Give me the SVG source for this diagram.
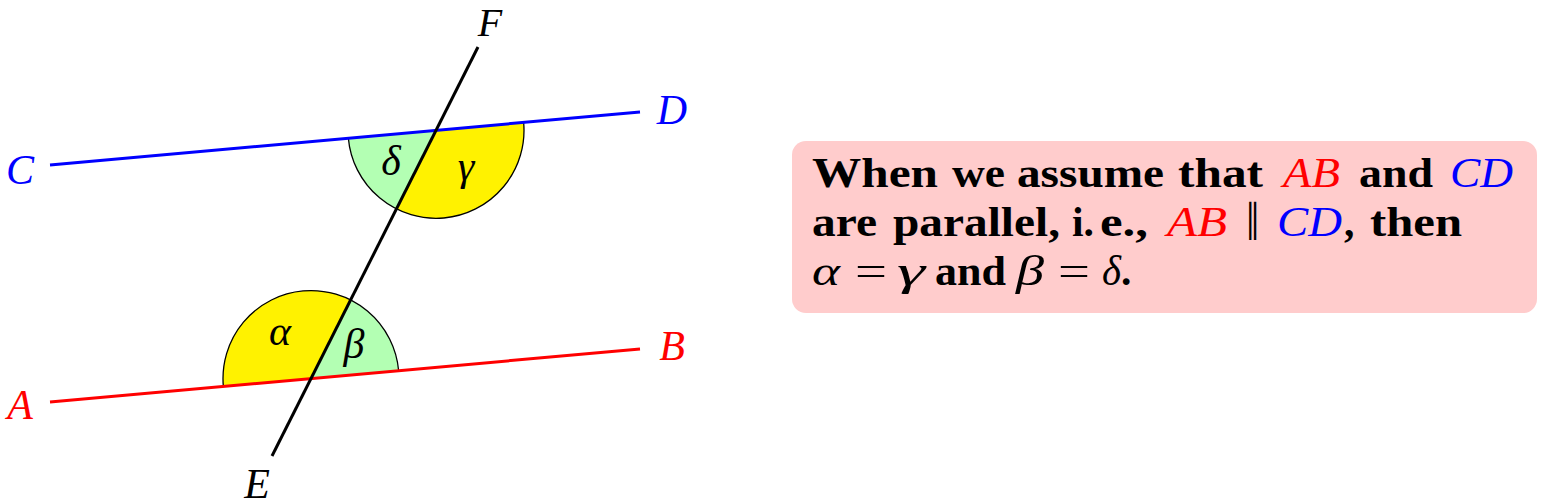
<svg xmlns="http://www.w3.org/2000/svg" width="1542" height="504" viewBox="0 0 1542 504">
<style>
.lbl{font-family:"Liberation Serif","DejaVu Serif",serif;font-style:italic;font-size:42px;text-anchor:middle}
.b{font-family:"Liberation Serif","DejaVu Serif",serif;font-weight:bold;font-size:41.5px;fill:#000}
.m{font-family:"Liberation Serif","DejaVu Serif",serif;font-style:italic;font-size:41.5px;fill:#000}
.u{font-family:"Liberation Serif","DejaVu Serif",serif;font-size:41.5px;fill:#000}
.red{fill:#ff0000}
.blue{fill:#0000ff}
.arc{fill:none;stroke:#000;stroke-width:1.3}
.yel{fill:#fff200}
.grn{fill:#b3ffb3}
.ln{stroke-width:3;stroke-linecap:butt;fill:none}
</style>
<rect width="1542" height="504" fill="#ffffff"/>
<g id="angles">
<path class="grn" d="M311,378.56 L398.65,370.69 A88,88 0 0 0 350.59,299.97 Z"/>
<path class="yel" d="M311,378.56 L350.59,299.97 A88,88 0 0 0 223.35,386.43 Z"/>
<path class="grn" d="M436,130.33 L348.35,138.2 A88,88 0 0 0 396.41,208.92 Z"/>
<path class="yel" d="M436,130.33 L396.41,208.92 A88,88 0 0 0 523.65,122.46 Z"/>
<path class="arc" d="M398.65,370.69 A88,88 0 0 0 223.35,386.43"/>
<path class="arc" d="M348.35,138.2 A88,88 0 0 0 523.65,122.46"/>
</g>
<g id="lines">
<line id="AB" class="ln" x1="50" y1="402" x2="640" y2="349" stroke="#ff0000"/>
<line id="CD" class="ln" x1="50" y1="165" x2="640" y2="112" stroke="#0000ff"/>
<line id="EF" class="ln" x1="272" y1="456" x2="478" y2="47" stroke="#000000"/>
</g>
<g id="labels">
<text class="lbl red" x="20" y="419">A</text>
<text class="lbl red" x="672" y="360">B</text>
<text class="lbl blue" x="20" y="184">C</text>
<text class="lbl blue" x="672" y="124">D</text>
<text class="lbl" x="257" y="498">E</text>
<text class="lbl" x="490" y="36" style="font-size:40px">F</text>
<text class="lbl" x="280" y="345">α</text>
<text class="lbl" x="354" y="358">β</text>
<text class="lbl" x="466" y="180">γ</text>
<text class="lbl" x="391" y="175">δ</text>
</g>
<g id="note">
<rect x="792" y="141" width="745" height="172" rx="14" ry="14" fill="#ffcccc"/>
<text class="b" x="812" y="187" textLength="126" lengthAdjust="spacingAndGlyphs">When</text>
<text class="b" x="952" y="187" textLength="53" lengthAdjust="spacingAndGlyphs">we</text>
<text class="b" x="1017" y="187" textLength="147" lengthAdjust="spacingAndGlyphs">assume</text>
<text class="b" x="1178" y="187" textLength="85" lengthAdjust="spacingAndGlyphs">that</text>
<text class="m red" x="1283" y="187" textLength="57" lengthAdjust="spacingAndGlyphs">AB</text>
<text class="b" x="1359" y="187" textLength="74" lengthAdjust="spacingAndGlyphs">and</text>
<text class="m blue" x="1450" y="187" textLength="63" lengthAdjust="spacingAndGlyphs">CD</text>

<text class="b" x="812" y="236" textLength="65" lengthAdjust="spacingAndGlyphs">are</text>
<text class="b" x="893" y="236" textLength="167" lengthAdjust="spacingAndGlyphs">parallel,</text>
<text class="b" x="1072" y="236" textLength="22" lengthAdjust="spacingAndGlyphs">i.</text>
<text class="b" x="1100" y="236" textLength="48" lengthAdjust="spacingAndGlyphs">e.,</text>
<text class="m red" x="1167" y="236" textLength="60" lengthAdjust="spacingAndGlyphs">AB</text>
<text class="u" x="1246" y="236" textLength="13" lengthAdjust="spacingAndGlyphs" style="font-family:'DejaVu Serif',serif">∥</text>
<text class="m blue" x="1277" y="236" textLength="65" lengthAdjust="spacingAndGlyphs">CD</text>
<text class="b" x="1344" y="236">,</text>
<text class="b" x="1370" y="236" textLength="92" lengthAdjust="spacingAndGlyphs">then</text>

<text class="m" x="812" y="285" textLength="28" lengthAdjust="spacingAndGlyphs">α</text>
<text class="u" x="855" y="285" textLength="32" lengthAdjust="spacingAndGlyphs">=</text>
<text class="m" x="897" y="285" textLength="28" lengthAdjust="spacingAndGlyphs">γ</text>
<text class="b" x="935" y="285" textLength="71" lengthAdjust="spacingAndGlyphs">and</text>
<text class="m" x="1016" y="285" textLength="28" lengthAdjust="spacingAndGlyphs">β</text>
<text class="u" x="1058" y="285" textLength="32" lengthAdjust="spacingAndGlyphs">=</text>
<text class="m" x="1102" y="285" textLength="19" lengthAdjust="spacingAndGlyphs">δ</text>
<text class="b" x="1121" y="285">.</text>
</g>
</svg>
